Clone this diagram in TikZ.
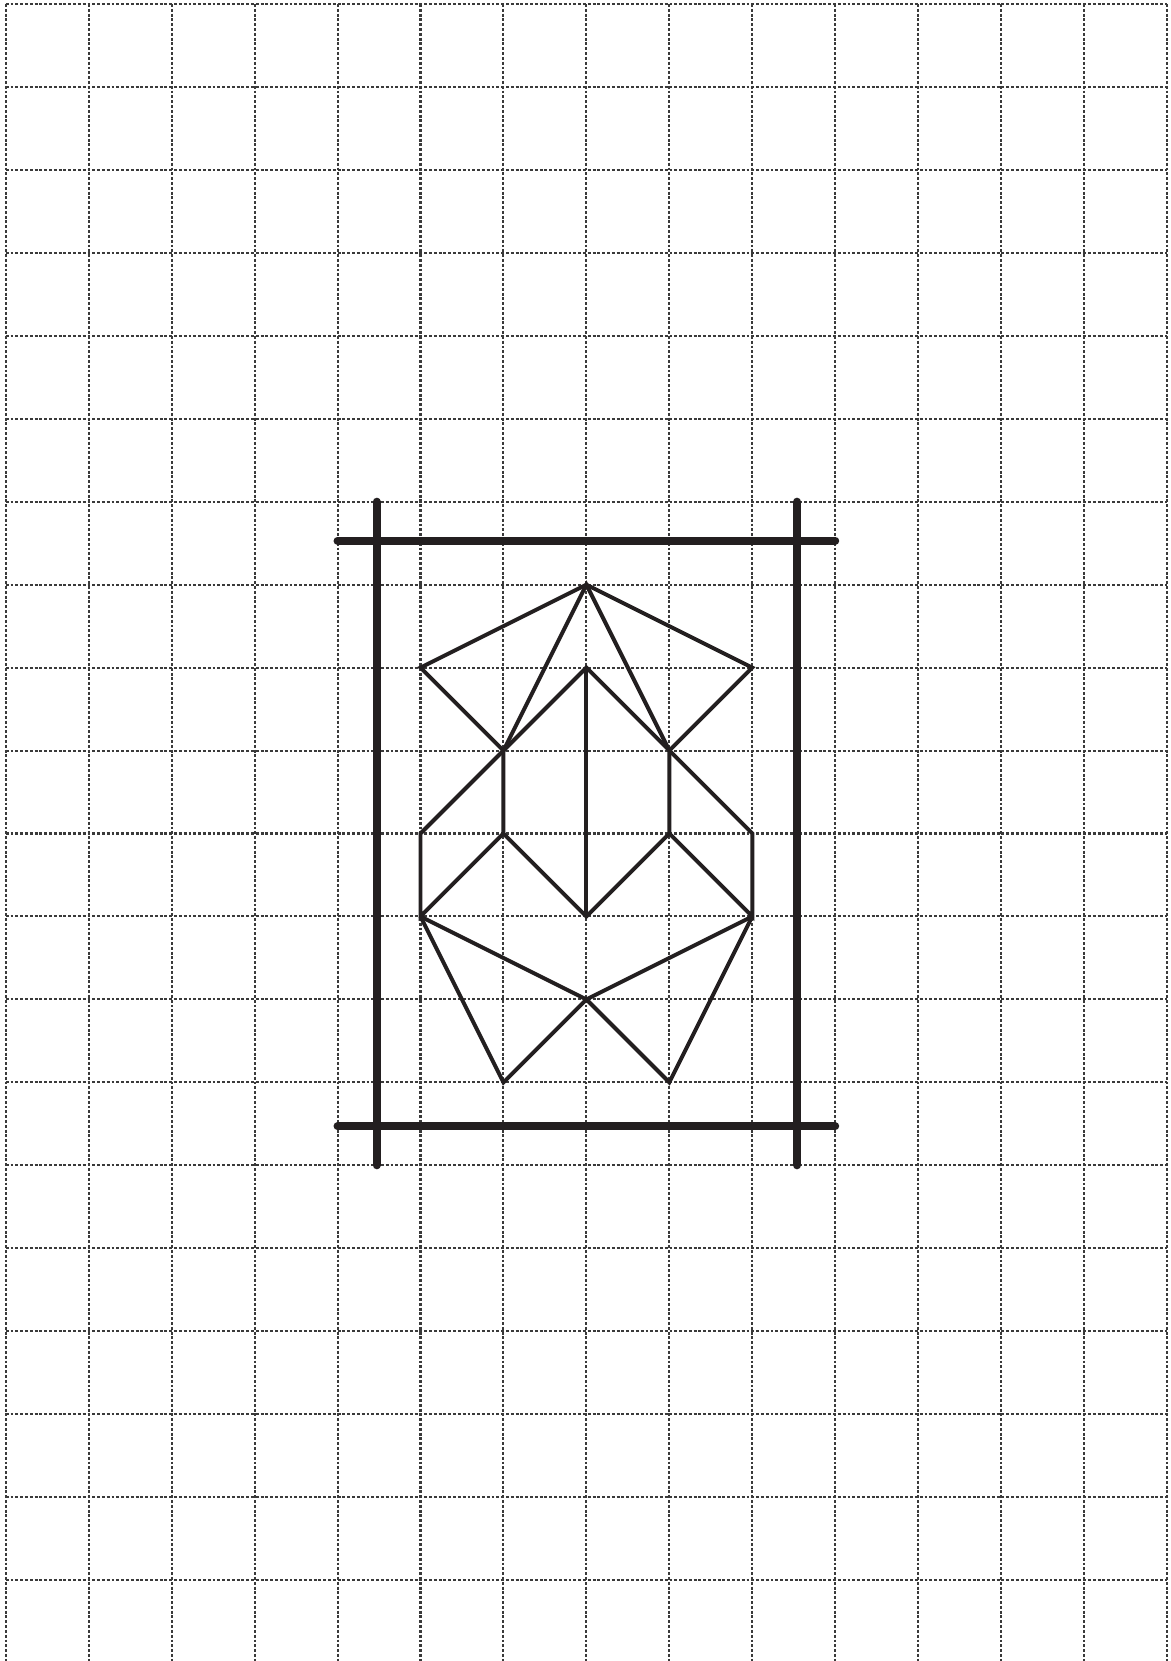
\documentclass[tikz,border=0pt]{standalone}
\usepackage{tikz}
\usetikzlibrary{calc}
\usepackage{xcolor}
\definecolor{ink}{HTML}{231F20}
\definecolor{gridink}{HTML}{3A3A3A}
\tikzset{
  gridline/.style={draw=gridink, line width=0.7pt, dash pattern=on 1.0pt off 0.65pt},
  frameline/.style={draw=ink, line width=2.75pt, line cap=round},
  figline/.style={draw=ink, line width=1.35pt, line join=miter},
}

\begin{document}
\begin{tikzpicture}[x=1cm, y=-1cm]

\useasboundingbox (-0.069,-0.048) rectangle (14.036,19.976);
\fill[white] (-0.069,-0.048) rectangle (14.036,19.976);

%% ====================  DOTTED GRID  ====================

\foreach \i in {0,...,14}
  \draw[gridline] (\i,0) -- (\i,20);
\foreach \j in {0,...,19}
  \draw[gridline] (0,\j) -- (14,\j);

%% ====================  FRAME  ====================

\coordinate (frame_tl) at (4,6.47);
\coordinate (frame_tr) at (10,6.47);
\coordinate (frame_bl) at (4,13.53);
\coordinate (frame_br) at (10,13.53);
\coordinate (frame_lt) at (4.47,6);
\coordinate (frame_lb) at (4.47,14);
\coordinate (frame_rt) at (9.54,6);
\coordinate (frame_rb) at (9.54,14);

\draw[frameline] (frame_tl) -- (frame_tr);
\draw[frameline] (frame_bl) -- (frame_br);
\draw[frameline] (frame_lt) -- (frame_lb);
\draw[frameline] (frame_rt) -- (frame_rb);

%% ====================  FIGURE POINTS  ====================

\coordinate (apex)   at (7,7);
\coordinate (top_l)  at (5,8);
\coordinate (top_c)  at (7,8);
\coordinate (top_r)  at (9,8);
\coordinate (mid_l)  at (6,9);
\coordinate (mid_r)  at (8,9);
\coordinate (side_l) at (5,10);
\coordinate (in_l)   at (6,10);
\coordinate (in_r)   at (8,10);
\coordinate (side_r) at (9,10);
\coordinate (wide_l) at (5,11);
\coordinate (wide_c) at (7,11);
\coordinate (wide_r) at (9,11);
\coordinate (low_c)  at (7,12);
\coordinate (foot_l) at (6,13);
\coordinate (foot_r) at (8,13);

%% ====================  FIGURE LINES  ====================

%% Upper wings
\draw[figline] (mid_l) -- (top_l) -- (apex) -- (top_r) -- (mid_r);
\draw[figline] (mid_l) -- (apex) -- (mid_r);
\draw[figline] (mid_l) -- (top_c) -- (mid_r);
\draw[figline] (top_c) -- (wide_c);

%% Middle body
\draw[figline] (mid_l) -- (in_l) -- (wide_c) -- (in_r) -- (mid_r);
\draw[figline] (mid_l) -- (side_l) -- (wide_l) -- (in_l);
\draw[figline] (mid_r) -- (side_r) -- (wide_r) -- (in_r);

%% Lower legs
\draw[figline] (wide_l) -- (low_c) -- (wide_r);
\draw[figline] (wide_l) -- (foot_l) -- (low_c) -- (foot_r) -- (wide_r);

\end{tikzpicture}
\end{document}
